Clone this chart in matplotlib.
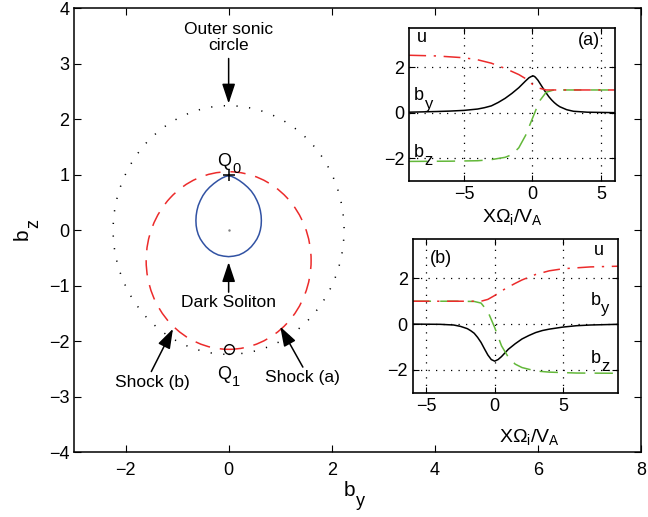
import matplotlib
matplotlib.use("Agg")
import matplotlib.pyplot as plt
from matplotlib.patches import Circle

plt.rcParams['font.family'] = ['Liberation Sans', 'DejaVu Sans']
plt.rcParams['mathtext.default'] = 'regular'

RED = '#ec2b2b'
GREEN = '#63b83a'
BLUE = '#3152a3'

# main plane: circles and dark soliton loop
sonic_center = (0.0, 0.0)
sonic_radius = 2.24
shock_center = (0.0, -0.55)
shock_radius = 1.6

loop_by = [0.0, 0.06, 0.13, 0.21, 0.29, 0.37, 0.44, 0.50, 0.55, 0.59, 0.615, 0.63, 0.635,
           0.63, 0.615, 0.59, 0.55, 0.50, 0.44, 0.37, 0.29, 0.20, 0.10, 0.0,
           -0.10, -0.20, -0.29, -0.37, -0.44, -0.50, -0.55, -0.59, -0.615, -0.63, -0.635,
           -0.63, -0.615, -0.59, -0.55, -0.50, -0.44, -0.37, -0.29, -0.21, -0.13, -0.06, 0.0]
loop_bz = [0.98, 0.965, 0.935, 0.89, 0.835, 0.77, 0.70, 0.62, 0.53, 0.44, 0.35, 0.26, 0.17,
           0.08, 0.0, -0.08, -0.16, -0.23, -0.30, -0.36, -0.41, -0.45, -0.47, -0.48,
           -0.47, -0.45, -0.41, -0.36, -0.30, -0.23, -0.16, -0.08, 0.0, 0.08, 0.17,
           0.26, 0.35, 0.44, 0.53, 0.62, 0.70, 0.77, 0.835, 0.89, 0.935, 0.965, 0.98]

Q0 = (0.0, 1.0)
Q1 = (0.0, -2.15)

# inset (a)
xa_u = [-9, -7, -5, -4, -3, -2, -1, -0.5, 0, 0.5, 1, 2, 4, 6]
ua = [2.53, 2.5, 2.42, 2.33, 2.18, 1.95, 1.68, 1.5, 1.25, 1.08, 1.0, 1.0, 1.0, 1.0]
xa_by = [-9, -7, -6, -5, -4, -3.5, -3, -2.5, -2, -1.5, -1, -0.75, -0.5, -0.25, -0.1, 0.05,
         0.1, 0.2, 0.4, 0.6, 0.8, 1.0, 1.2, 1.4, 1.6, 1.8, 2.0, 2.5, 3, 4, 6]
bya = [0.02, 0.05, 0.07, 0.1, 0.16, 0.22, 0.3, 0.45, 0.63, 0.85, 1.1, 1.25, 1.4, 1.54, 1.59,
       1.62, 1.61, 1.57, 1.43, 1.24, 1.05, 0.87, 0.7, 0.56, 0.44, 0.34, 0.26, 0.13, 0.06,
       0.02, 0.0]
xa_bz = [-9, -6, -4, -3, -2, -1.5, -1, -0.5, 0, 0.5, 1, 1.5, 2, 4, 6]
bza = [-2.15, -2.14, -2.12, -2.07, -1.97, -1.85, -1.55, -1.0, -0.25, 0.5, 0.9, 0.99, 1.0, 1.0, 1.0]

# inset (b)
xb_u = [-6, -4, -2, -1, -0.5, 0, 0.5, 1, 1.5, 2, 3, 4, 5, 7, 9]
ub = [1, 1, 1, 1.0, 1.08, 1.25, 1.45, 1.62, 1.78, 1.93, 2.17, 2.33, 2.42, 2.5, 2.53]
xb_by = [-6, -4, -3, -2.5, -2, -1.75, -1.5, -1.25, -1, -0.75, -0.5, -0.25, 0, 0.25, 0.5,
         0.75, 1, 1.5, 2, 2.5, 3, 3.5, 4, 5, 6, 7, 9]
byb = [0, -0.01, -0.04, -0.1, -0.2, -0.29, -0.4, -0.58, -0.8, -1.08, -1.35, -1.55, -1.62,
       -1.55, -1.42, -1.26, -1.1, -0.86, -0.65, -0.5, -0.37, -0.28, -0.22, -0.13, -0.07,
       -0.04, -0.01]
xb_bz = [-6, -3, -1.5, -1, -0.5, 0, 0.5, 1, 1.5, 2, 3, 4, 6, 9]
bzb = [1, 1, 0.99, 0.92, 0.55, -0.15, -0.95, -1.45, -1.75, -1.9, -2.05, -2.1, -2.14, -2.15]


def sub_text(ax, x, y, base, sub, fs, sfs, drop, coords=None, rot=False):
    # base letter with a lowered subscript right after it
    tr = coords if coords is not None else ax.transData
    if rot:
        t = ax.text(x, y, base, fontsize=fs, ha='left', va='baseline', rotation=90,
                    rotation_mode='anchor', transform=tr)
        ax.annotate(sub, xy=(1, 1), xycoords=t, xytext=(drop - 0.21 * fs, 0.5),
                    textcoords='offset points', fontsize=sfs, ha='left',
                    va='baseline', rotation=90, rotation_mode='anchor')
    else:
        t = ax.text(x, y, base, fontsize=fs, ha='center', va='baseline', transform=tr)
        ax.annotate(sub, xy=(1, 0), xycoords=t, xytext=(0.5, 0.21 * fs - drop),
                    textcoords='offset points', fontsize=sfs, ha='left', va='baseline')


fig = plt.figure(figsize=(6.48, 5.17), dpi=100)
ax = fig.add_axes([0.1142, 0.1257, 0.875, 0.8588])

ax.add_patch(Circle(sonic_center, sonic_radius, fill=False, ec='k', lw=1.1,
                    ls=(0, (0.8, 7.5))))
ax.add_patch(Circle(shock_center, shock_radius, fill=False, ec=RED, lw=1.1,
                    ls=(0, (10, 6.5))))
ax.plot(loop_by, loop_bz, color=BLUE, lw=1.1)
ax.plot([0], [0], '.', color='0.5', ms=1.5)
ax.plot(*Q0, '+', color='k', ms=8, mew=1.1)
ax.plot(*Q1, 'o', mfc='none', mec='k', ms=7, mew=1)

ax.set_xlim(-3, 8)
ax.set_ylim(-4, 4)
ax.set_xticks([-2, 0, 2, 4, 6, 8])
ax.set_yticks(range(-4, 5))
ax.set_yticklabels(['\u22124', '\u22123', '\u22122', '\u22121', '0', '1', '2', '3', '4'])
ax.set_xticklabels(['\u22122', '0', '2', '4', '6', '8'])
ax.tick_params(direction='in', top=True, right=True, labelsize=13, length=5)
ax.tick_params(axis='x', pad=7)
for s in ax.spines.values():
    s.set_linewidth(1.1)

# axis labels b_y, b_z
sub_text(ax, 0.540, 0.040, 'b', 'y', 15, 13, 0.5 * 15, coords=fig.transFigure)
sub_text(ax, 0.043, 0.535, 'b', 'z', 15, 13, 0.5 * 15, coords=fig.transFigure, rot=True)

tfs = 12.5
ax.text(0, 3.47, 'Outer sonic\ncircle', ha='center', va='center', fontsize=tfs,
        linespacing=1.15)
ax.text(0, -1.3, 'Dark Soliton', ha='center', va='center', fontsize=tfs)
ax.text(-1.47, -2.75, 'Shock (b)', ha='center', va='center', fontsize=tfs)
ax.text(1.44, -2.66, 'Shock (a)', ha='center', va='center', fontsize=tfs)
sub_text(ax, -0.08, 1.16, 'Q', '0', 13, 10.5, 0.37 * 13)
sub_text(ax, -0.08, -2.68, 'Q', '1', 13, 10.5, 0.37 * 13)

arrows = [((0, 3.09), (0, 2.28)), ((0, -1.12), (0, -0.58)),
          ((-1.5, -2.55), (-1.08, -1.78)), ((1.44, -2.47), (1.0, -1.74))]
for tail, tip in arrows:
    ax.annotate('', xy=tip, xytext=tail,
                arrowprops=dict(arrowstyle='-|>,head_length=0.6,head_width=0.2',
                                color='k', lw=1.1, mutation_scale=20,
                                shrinkA=0, shrinkB=0))


def inset(rect, xlim, data, tag, labels, xlabel_x, xlabel_y):
    a = fig.add_axes(rect)
    (xu, u), (xby, by), (xbz, bz) = data
    a.plot(xby, by, color='k', lw=1.1)
    a.plot(xbz, bz, color=GREEN, lw=1.1, dashes=(12, 6))
    a.plot(xu, u, color=RED, lw=1.1, dashes=(11, 5, 1.5, 5))
    a.set_xlim(*xlim)
    a.set_ylim(-3, 3.72)
    a.set_xticks([-5, 0, 5])
    a.set_yticks([-2, 0, 2])
    a.set_xticklabels(['\u22125', '0', '5'])
    a.set_yticklabels(['\u22122', '0', '2'])
    a.tick_params(direction='in', top=True, right=True, labelsize=13, length=4)
    a.grid(True, color='k', ls=(0, (1, 5)), lw=0.9)
    for s in a.spines.values():
        s.set_linewidth(1.2)
    a.text(tag[0], tag[1], tag[2], ha='center', va='center', fontsize=13)
    (ux, uy), (byx, byy), (bzx, bzy) = labels
    a.text(ux, uy, 'u', ha='center', va='center', fontsize=13)
    sub_text(a, byx, byy, 'b', 'y', 13, 12, 0.45 * 13)
    sub_text(a, bzx, bzy, 'b', 'z', 13, 12, 0.45 * 13)
    a.set_xlabel('X\u03a9$_i$/V$_A$', fontsize=14, va='top')
    a.xaxis.set_label_coords(xlabel_x, xlabel_y)
    return a


inset([0.6316, 0.6505, 0.3179, 0.2948], (-9, 6.05),
      [(xa_u, ua), (xa_by, bya), (xa_bz, bza)], (4.1, 3.2, '(a)'),
      [(-8.1, 3.3), (-8.3, 0.55), (-8.3, -1.95)], 0.503, -0.175)
inset([0.6369, 0.2404, 0.3173, 0.2973], (-6, 9.05),
      [(xb_u, ub), (xb_by, byb), (xb_bz, bzb)], (-3.9, 2.85, '(b)'),
      [(7.6, 3.2), (7.4, 0.85), (7.4, -1.7)], 0.568, -0.22)

fig.savefig('out.png', dpi=100)
